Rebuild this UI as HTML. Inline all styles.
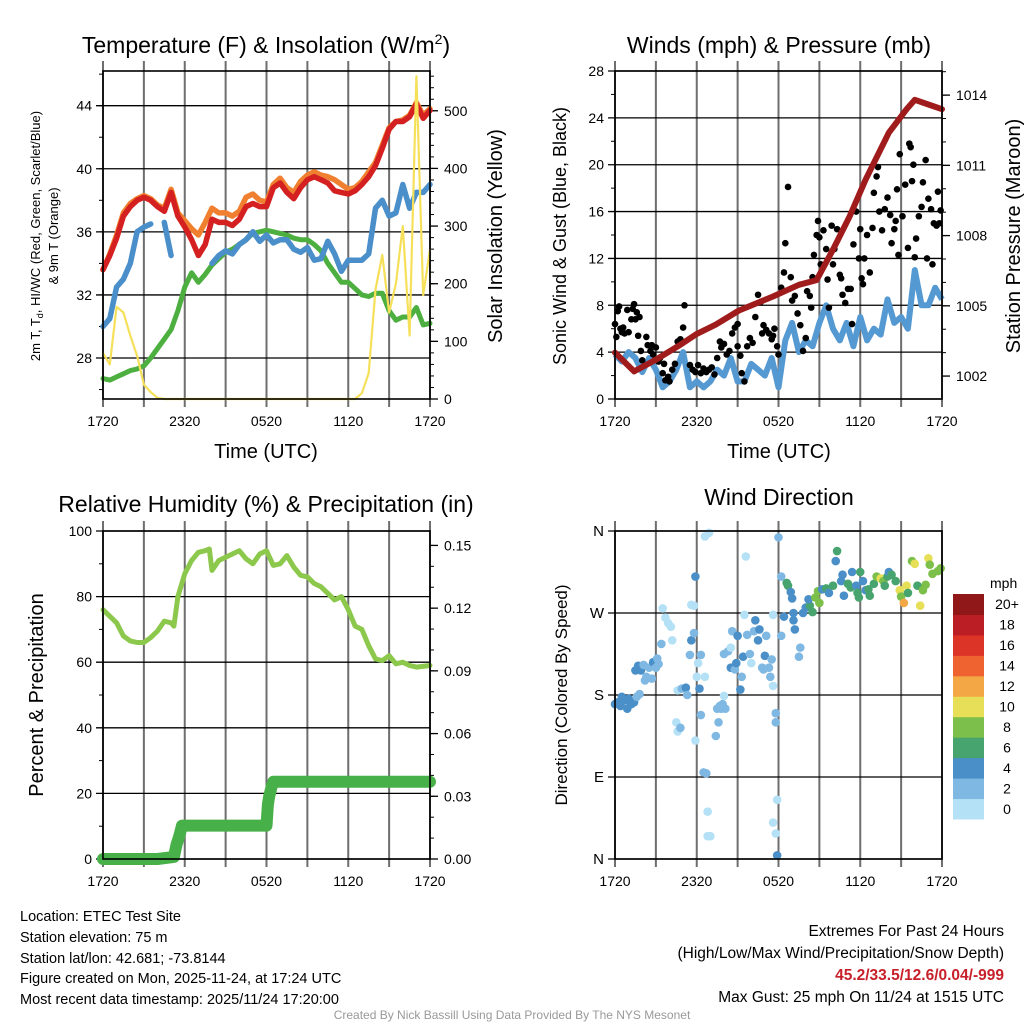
<!DOCTYPE html>
<html><head><meta charset="utf-8"><style>
html,body{margin:0;padding:0;background:#fff}
svg{display:block;font-family:"Liberation Sans",sans-serif}
</style></head><body>
<svg id="chart" width="1024" height="1024" viewBox="0 0 1024 1024" xmlns="http://www.w3.org/2000/svg">
<rect width="1024" height="1024" fill="#fff"/>
<text x="266" y="53" font-size="23" text-anchor="middle">Temperature (F) &amp; Insolation (W/m<tspan font-size="14" dy="-9">2</tspan><tspan dy="9">)</tspan></text>
<text x="779" y="53" font-size="23" text-anchor="middle">Winds (mph) &amp; Pressure (mb)</text>
<text x="266" y="512" font-size="23" text-anchor="middle">Relative Humidity (%) &amp; Precipitation (in)</text>
<text x="779" y="505" font-size="23" text-anchor="middle">Wind Direction</text>
<text transform="translate(40,236) rotate(-90)" font-size="13" text-anchor="middle">2m T, T<tspan font-size="9" dy="3">d</tspan><tspan dy="-3">, HI/WC (Red, Green, Scarlet/Blue)</tspan></text>
<text transform="translate(58,236) rotate(-90)" font-size="13" text-anchor="middle">&amp; 9m T (Orange)</text>
<text transform="translate(502,236) rotate(-90)" font-size="20" text-anchor="middle">Solar Insolation (Yellow)</text>
<text transform="translate(566,236) rotate(-90)" font-size="18" text-anchor="middle">Sonic Wind &amp; Gust (Blue, Black)</text>
<text transform="translate(1020,236) rotate(-90)" font-size="20" text-anchor="middle">Station Pressure (Maroon)</text>
<text transform="translate(43,695) rotate(-90)" font-size="20" text-anchor="middle">Percent &amp; Precipitation</text>
<text transform="translate(567,695) rotate(-90)" font-size="17" text-anchor="middle">Direction (Colored By Speed)</text>
<text x="266" y="458" font-size="20" text-anchor="middle">Time (UTC)</text>
<text x="779" y="458" font-size="20" text-anchor="middle">Time (UTC)</text>
<g font-size="14.5">
<text x="20" y="921">Location: ETEC Test Site</text>
<text x="20" y="942">Station elevation: 75 m</text>
<text x="20" y="963">Station lat/lon: 42.681; -73.8144</text>
<text x="20" y="983">Figure created on Mon, 2025-11-24, at 17:24 UTC</text>
<text x="20" y="1004">Most recent data timestamp: 2025/11/24 17:20:00</text>
</g>
<g font-size="15.5" text-anchor="end">
<text x="1004" y="936">Extremes For Past 24 Hours</text>
<text x="1004" y="958">(High/Low/Max Wind/Precipitation/Snow Depth)</text>
<text x="1004" y="980" fill="#c8202a" font-weight="bold">45.2/33.5/12.6/0.04/-999</text>
<text x="1004" y="1002">Max Gust: 25 mph On 11/24 at 1515 UTC</text>
</g>
<text x="512" y="1019" font-size="12" fill="#999" text-anchor="middle">Created By Nick Bassill Using Data Provided By The NYS Mesonet</text>
<g id="plots"></g>
</svg>
<script>
// ---- data (hours since 1720 UTC) ----
const tHours=[0,0.5,1,1.5,2,2.5,3,3.5,4,4.5,5,5.5,6,6.5,7,7.5,8,8.5,9,9.5,10,10.5,11,11.5,12,12.5,13,13.5,14,14.5,15,15.5,16,16.5,17,17.5,18,18.5,19,19.5,20,20.5,21,21.5,22,22.5,23,23.5,24];
const tempRed=[33.6,34.5,35.6,37,37.6,38,38.2,38,37.6,37.3,38.5,37,36.3,35.5,34.5,35.2,36.8,36.6,36.6,36.4,36.8,37.6,37.8,37.6,37.6,38.8,39.1,38.5,38.1,38.8,39.3,39.5,39.3,39.1,38.6,38.5,38.4,38.6,39,39.5,40.2,41.3,42.5,43,43,43.3,44.1,43.2,43.7];
const temp9m=[33.6,34.6,35.8,37.2,37.8,38.1,38.3,38.1,37.7,37.5,38.7,37.2,36.7,36.2,35.8,36.6,37.5,37.2,37.2,37,37.3,38.2,38.4,38,37.9,39,39.4,38.8,38.5,39.2,39.6,39.8,39.6,39.5,39.3,39,38.7,38.8,39.2,39.8,40.4,41.5,42.6,43,43.1,43.4,44.2,43.4,43.8];
const tempBlue=[30,30.5,32.5,33,34,36,36.3,36.5,null,36.6,34.5,null,null,null,35,null,34,34.5,34.8,34.6,35.2,35.5,36,35.4,35.8,35.3,35.5,35.5,34.9,34.7,35,34.2,34.3,35.4,34.6,33.5,34.2,34.2,34.2,34.6,37.5,38,37,37.2,39,37.5,38.5,38.5,39];
const tempGreen=[26.7,26.6,26.8,27,27.2,27.3,27.5,28,28.6,29.2,29.8,31,32.5,33.4,32.8,33.3,33.9,34.3,34.7,34.9,35.2,35.5,35.9,36,36.1,36,35.9,35.8,35.6,35.5,35.5,35.2,34.8,34,33.4,32.8,32.8,32.4,32,31.9,32.1,32.1,31,30.4,30.6,30.6,31.2,30.1,30.2];
const solar=[80,60,160,150,110,75,25,12,2,0,0,0,0,0,0,0,0,0,0,0,0,0,0,0,0,0,0,0,0,0,0,0,0,0,0,0,0,0,10,45,190,250,150,200,300,110,560,180,260];
const windSonic=[3.8,3.2,4,3.5,2.3,3.5,2.5,1,1.5,2.5,4,1,1.5,1,1.5,2.5,2,3.5,1.5,1.5,3,2.5,2,3.5,1,5,6.5,4,5,4.5,6.5,8,6,5,6.5,4.5,7,5,6,5.5,8.5,6.5,7,6,11,8,8,9.5,8.5];
const pressHours=[0,1.4,3,4.7,6,7.4,9.1,11.6,13.5,14.8,16,17.2,18.4,20.1,21.4,22,23,24];
const pressure=[1003.0,1002.2,1002.7,1003.3,1003.8,1004.2,1004.8,1005.4,1005.9,1006.1,1007.4,1008.8,1010.4,1012.4,1013.4,1013.8,1013.6,1013.4];
const gustHours=[0,0.1,0.2,0.3,0.4,0.5,0.6,0.7,0.9,1,1.2,1.3,1.4,1.5,1.6,1.8,1.7,1.9,2,2.3,2.4,2.6,2.7,2.8,3,3.2,3.3,3.5,3.7,3.9,4,4.2,4.4,4.6,4.8,5,5.1,5.5,5.7,5.9,6.1,6.3,6.5,6.7,6.9,7.1,7.3,7.5,7.7,7.8,8,8.2,8.4,8.6,8.8,9,9.2,9.3,9.5,9.7,9.9,10.1,10.3,10.5,10.7,10.8,10.9,11.1,11.3,11.5,11.6,11.7,11.9,12,12.2,12.4,12.5,12.7,12.9,13,13.2,13.4,13.6,13.8,14,14.1,14.3,14.4,14.5,14.6,14.8,14.9,15,15.1,15.3,15.5,15.6,15.7,15.9,16,16.1,16.3,16.5,16.6,16.7,16.9,17.1,17.3,17.4,17.5,17.7,17.9,18,18.1,18.2,18.3,18.5,18.7,18.9,19,19.2,19.3,19.4,19.6,19.8,20,20.2,20.3,20.5,20.6,20.7,20.8,20.9,21.1,21.3,21.5,21.6,21.7,21.8,21.9,22,22.1,22.3,22.5,22.6,22.8,22.9,23,23.2,23.3,23.4,23.6,23.7,23.9,23.8,9,3.6];
const gust=[6.4,5.3,7.5,7.9,6,5.7,6.1,5.6,7.6,5.7,6.8,7.7,8.1,6.8,7.4,7,5.4,4.1,3.3,5.3,4.6,4.1,4.6,3.8,4.4,3.2,3.5,2.2,1.6,1.9,1.5,2.5,3,4.9,5.1,6.1,8,2.9,2.5,2.3,2.9,2.2,2.6,2.3,2.5,2.7,2.1,3.5,4.9,4.4,4.7,3.8,4.1,5.6,6.1,6.4,3.7,2.2,1.5,4.5,5.2,4.8,7,8.9,8.3,5.6,6.3,5.9,5.6,5.1,5.4,6,4.5,3.8,9.5,10.8,13.3,18.1,10.4,8.4,8.8,7.3,6.3,4.1,5.2,9.2,8.8,7.8,10.4,12.3,14,15.2,13.8,11.5,14.4,12.8,10.2,7.8,14.8,11.5,12.8,14.5,10.6,10.3,8.9,8.2,9.4,9.4,6.4,13.2,16,12,14.5,10.3,9.8,12,14,10.8,14.6,17.6,19,19.8,16,14.4,16.2,17.2,15.7,13.3,14.5,15.2,17.9,12.3,20.9,15.6,18.3,12.9,21.8,21.5,18.6,20,12.1,13.7,15.6,16.4,18.5,20.4,12,17.1,16.2,11.5,15,14.8,17.7,16.1,15,4.5,3];
const rhHours=[0,1,1.5,2,2.5,3,3.5,4,4.5,5,5.2,5.5,6,6.5,7,7.5,7.8,8,8.5,9,9.5,10,10.5,11,11.5,12,12.5,13,13.5,14,14.5,15,15.5,16,16.5,17,17.5,18,18.5,19,19.5,20,20.5,21,21.5,22,22.5,23,24];
const rh=[76,72,68,66.5,66,66,67.5,69.5,72.5,72,71,80,87,91,93.5,94,94.5,88,91,92,93,94,91.5,90,93,94,89.5,90,92.5,89,86.5,86,84,83,81,79,80,76,71,70,65,61,60.5,62,59.5,60,59,58.5,59];
const precipHours=[0,1,2,3,4,5.2,5.4,5.6,5.8,6,7,8,9,10,11,12,12.1,12.2,12.35,12.5,13,14,15,16,17,18,19,20,21,22,23,24];
const precip=[0,0,0,0,0,0.001,0.007,0.011,0.016,0.016,0.016,0.016,0.016,0.016,0.016,0.016,0.026,0.03,0.034,0.037,0.037,0.037,0.037,0.037,0.037,0.037,0.037,0.037,0.037,0.037,0.037,0.037];
const dirHours=[0,0.2,0.4,0.5,0.7,0.9,1,1.2,1.4,1.6,1.8,1.5,1.7,1.9,2.1,2.2,2.3,2.5,2.7,2.8,3,3.2,3.5,3.7,3.9,4.1,4.2,3.4,3.1,4.5,4.6,4.8,4.6,4.9,5.2,5.3,5.5,5.6,5.8,5.6,5.8,5.9,5.9,6,6.1,6.3,6.2,6.3,6.6,6.5,6.7,6.8,6.8,7,6.6,6.9,7.5,7.6,7.4,7.8,7.9,8.1,8,7.7,8,8.3,8.5,8.5,8.8,8.9,8.6,9,9.2,9.3,9.4,9.5,9.6,9.7,9.9,10,10.3,10.2,10.5,10.6,10.8,10.9,11,11.1,11.3,11.4,11.5,11.6,11.6,11.8,11.8,11.6,11.8,11.9,12,11.9,12.2,12.2,12.4,12.6,12.7,12.9,13,13.1,13.2,13.1,13.5,13.6,13.8,14,14.3,14.5,14.2,14.7,15,14.9,15.2,15.5,15.7,16,16.2,16.3,16.6,16.7,16.8,17.1,17.3,17.4,17.7,17.8,17.9,18,18.2,18.4,18.6,18.7,19,19.2,19.5,19.7,19.8,20,20.1,20.3,20.6,20.9,21,21.2,21.4,21.5,21.8,22,22.2,22.4,22.6,22.8,23,23.1,23.3,23.7,23.9];
const dirDeg=[170,172,168,178,174,165,176,170,172,178,181,207,212,207,213,196,200,210,198,216,210,214,275,265,259,255,240,236,220,150,140,144,185,187,188,180,224,240,248,279,278,310,130,200,215,224,187,158,200,95,94,52,25,25,354,358,165,150,135,165,170,165,179,168,225,228,232,210,208,215,250,245,186,200,222,268,332,246,225,215,262,250,240,252,210,208,223,245,210,200,219,190,268,160,150,40,28,4,353,65,310,245,266,303,300,293,286,262,252,270,222,232,270,276,278,271,285,287,281,294,296,297,292,300,327,338,305,312,289,302,298,315,300,292,287,315,305,295,296,289,302,310,308,305,300,310,315,312,305,295,288,281,300,292,327,324,300,278,295,301,330,323,313,316,319];
const dirSpeed=[4,4,4,4,4,4,4,4,4,3,3,4,4,4,3,3,3,3,3,4,3,3,1,1,1,1,1,2,2,1,1,2,1,2,4,3,2,4,3,1,1,4,1,1,1,3,4,3,1,3,2,1,1,1,1,1,3,2,3,2,3,3,1,2,3,3,1,4,3,4,3,4,4,3,4,1,1,2,2,1,4,2,4,4,3,2,4,2,3,3,2,1,1,3,2,1,1,4,2,1,3,3,4,6,6,4,4,4,4,5,3,3,4,4,7,7,5,8,8,8,4,7,5,6,4,6,5,4,4,6,6,4,5,6,6,6,5,4,6,6,7,8,10,8,7,6,5,6,7,10,8,12,10,6,9,10,7,10,8,8,10,8,8,8,8];
const tempLeftTicks=[28,32,36,40,44];
const solarTicks=[0,100,200,300,400,500];
const windTicks=[0,4,8,12,16,20,24,28];
const pressTicks=[1002,1005,1008,1011,1014];
const rhTicks=[0,20,40,60,80,100];
const precipTicks=[0,0.03,0.06,0.09,0.12,0.15];
const dirTicks=[0,90,180,270,360];
const dirTickLabels=['N','E','S','W','N'];
const timeLabels=['1720','2320','0520','1120','1720'];
const speedBins=['0','2','4','6','8','10','12','14','16','18','20+'];

// ---- drawing ----
const NS='http://www.w3.org/2000/svg';
const root=document.getElementById('plots');
function mk(tag,attrs,parent){const e=document.createElementNS(NS,tag);for(const k in attrs)e.setAttribute(k,attrs[k]);(parent||root).appendChild(e);return e;}
const binColors=['#b4e1f6','#7fb8e2','#4a8fc7','#48a46e','#7dbf4b','#e6df57','#f4a845','#ee6330','#dc3427','#bc1e25','#901818'];
const W=327,H=328;
function xs(x0){return h=>x0+h/24*W;}
function linScale(y0,lo,hi){return v=>y0+H-(v-lo)/(hi-lo)*H;}
function pathD(hs,vs,fx,fy){let d='',pen=false;for(let i=0;i<hs.length;i++){if(vs[i]===null){pen=false;continue;}d+=(pen?'L':'M')+fx(hs[i]).toFixed(1)+','+fy(vs[i]).toFixed(1);pen=true;}return d;}

function frame(x0,y0,name){
  const g=mk('g',{});
  
  
  for(let i=0;i<=8;i++){
    const x=x0+i*W/8;
    const l=mk('line',{x1:x,x2:x,y1:y0-10,y2:y0+H+8,stroke:'#6e6e6e','stroke-width':2},g);
    
    
  }
  for(let i=0;i<5;i++){
    const t=mk('text',{x:x0+i*W/4,y:y0+H+27,'font-size':14,'text-anchor':'middle'},g);
    
    
    t.textContent=timeLabels[i];
  }
  return g;
}
function hgrid(g,x0,vals,fy,labels,side,fs){
  vals.forEach((v,i)=>{
    const y=fy(v);
    if(side==='left'){
      const l=mk('line',{x1:x0-7,x2:x0+W,y1:y,y2:y,stroke:'#000','stroke-width':1.3},g);
      
      
      const t=mk('text',{x:x0-11,y:y+5,'font-size':fs||14,'text-anchor':'end'},g);
      
      
      t.textContent=labels[i];
    }else{
      const l=mk('line',{x1:x0+W,x2:x0+W+8,y1:y,y2:y,stroke:'#000','stroke-width':1.3},g);
      
      
      const t=mk('text',{x:x0+W+14,y:y+5,'font-size':14,'text-anchor':'start'},g);
      
      
      t.textContent=labels[i];
    }
  });
}
function minor(g,x,lo,hi,step,fy,dir){
  for(let v=lo;v<=hi+1e-9;v+=step){const y=fy(v);const l=mk('line',{x1:x,x2:x+dir*4,y1:y,y2:y,stroke:'#000','stroke-width':1},g);
  
  }
}
function border(x0,y0){const r=mk('rect',{x:x0,y:y0,width:W,height:H,fill:'none',stroke:'#000','stroke-width':1.6});
  
  }

// Panel 1: temperature
{
  const x0=103,y0=71,fx=xs(x0),fy=linScale(y0,25.4,46.2),fs=v=>y0+H-v/569*H;
  const g=frame(x0,y0,'temp');
  hgrid(g,x0,tempLeftTicks,fy,tempLeftTicks,'left');
  hgrid(g,x0,solarTicks,fs,solarTicks,'right');
  minor(g,x0,26,46,2,fy,-1);minor(g,x0+W,0,560,20,fs,1);
  const s=[[temp9m,'#f08030',5.5,'temp-9m-line'],[tempRed,'#d42020',5.5,'temp-2m-line'],[tempGreen,'#4caf3f',5,'dewpoint-line'],[tempBlue,'#4a8fca',5.5,'wind-chill-line']];
  s.forEach(a=>{const p=mk('path',{d:pathD(tHours,a[0],fx,fy),fill:'none',stroke:a[1],'stroke-width':a[2],'stroke-linejoin':'round','stroke-linecap':'round'});
    
    });
  const p=mk('path',{d:pathD(tHours,solar,fx,fs),fill:'none',stroke:'#f6e05a','stroke-width':2.2,'stroke-linejoin':'round'});
  
  
  border(x0,y0);
}
// Panel 2: wind & pressure
{
  const x0=615,y0=71,fx=xs(x0),fy=linScale(y0,0,28),fp=linScale(y0,1001.02,1015.03);
  const g=frame(x0,y0,'wind');
  hgrid(g,x0,windTicks,fy,windTicks,'left');
  hgrid(g,x0,pressTicks,fp,pressTicks,'right');
  minor(g,x0,2,26,4,fy,-1);minor(g,x0+W,1002,1015,1,fp,1);
  const w=mk('path',{d:pathD(tHours,windSonic,fx,fy),fill:'none',stroke:'#5599d3','stroke-width':6,'stroke-linejoin':'round'});
  
  
  const gg=mk('g',{fill:'#000'});
  
  
  gustHours.forEach((h,i)=>{const c=mk('circle',{cx:fx(h),cy:fy(gust[i]),r:3.3},gg);
    
    });
  const p=mk('path',{d:pathD(pressHours,pressure,fx,fp),fill:'none',stroke:'#a01c1c','stroke-width':6,'stroke-linejoin':'round','stroke-linecap':'round'});
  
  
  border(x0,y0);
}
// Panel 3: RH & precip
{
  const x0=103,y0=531,fx=xs(x0),fy=linScale(y0,0,100),fpr=linScale(y0,0,0.1569);
  const g=frame(x0,y0,'rh');
  hgrid(g,x0,rhTicks,fy,rhTicks,'left');
  hgrid(g,x0,precipTicks,fpr,precipTicks.map(v=>v.toFixed(2)),'right');
  minor(g,x0,10,90,20,fy,-1);minor(g,x0+W,0,0.156,0.01,fpr,1);
  const r=mk('path',{d:pathD(rhHours,rh,fx,fy),fill:'none',stroke:'#8cc84b','stroke-width':5,'stroke-linejoin':'round','stroke-linecap':'round'});
  
  
  const p=mk('path',{d:pathD(precipHours,precip,fx,fpr),fill:'none',stroke:'#48b048','stroke-width':12,'stroke-linejoin':'round','stroke-linecap':'round'});
  
  
  border(x0,y0);
}
// Panel 4: wind direction
{
  const x0=615,y0=531,fx=xs(x0),fy=linScale(y0,0,360);
  const g=frame(x0,y0,'dir');
  hgrid(g,x0,dirTicks,fy,dirTickLabels,'left',15);
  const gg=mk('g',{});
  
  
  dirHours.forEach((h,i)=>{const b=Math.min(10,Math.floor(dirSpeed[i]/2));
    const c=mk('circle',{cx:fx(h),cy:fy(dirDeg[i]),r:4.3,fill:binColors[b]},gg);
    
    });
  border(x0,y0);
  const cb=mk('g',{});
  
  
  const lt=mk('text',{x:990,y:588,'font-size':14},cb);
  
  
  lt.textContent='mph';
  const bh=225/11;
  speedBins.forEach((s,i)=>{const y=819-(i+1)*bh;
    const r=mk('rect',{x:953,y:y,width:31,height:bh+0.5,fill:binColors[i]},cb);
    
    
    const t=mk('text',{x:1007,y:y+bh/2+5,'font-size':14,'text-anchor':'middle'},cb);
    
    
    t.textContent=s;});
}
</script>
</body></html>
